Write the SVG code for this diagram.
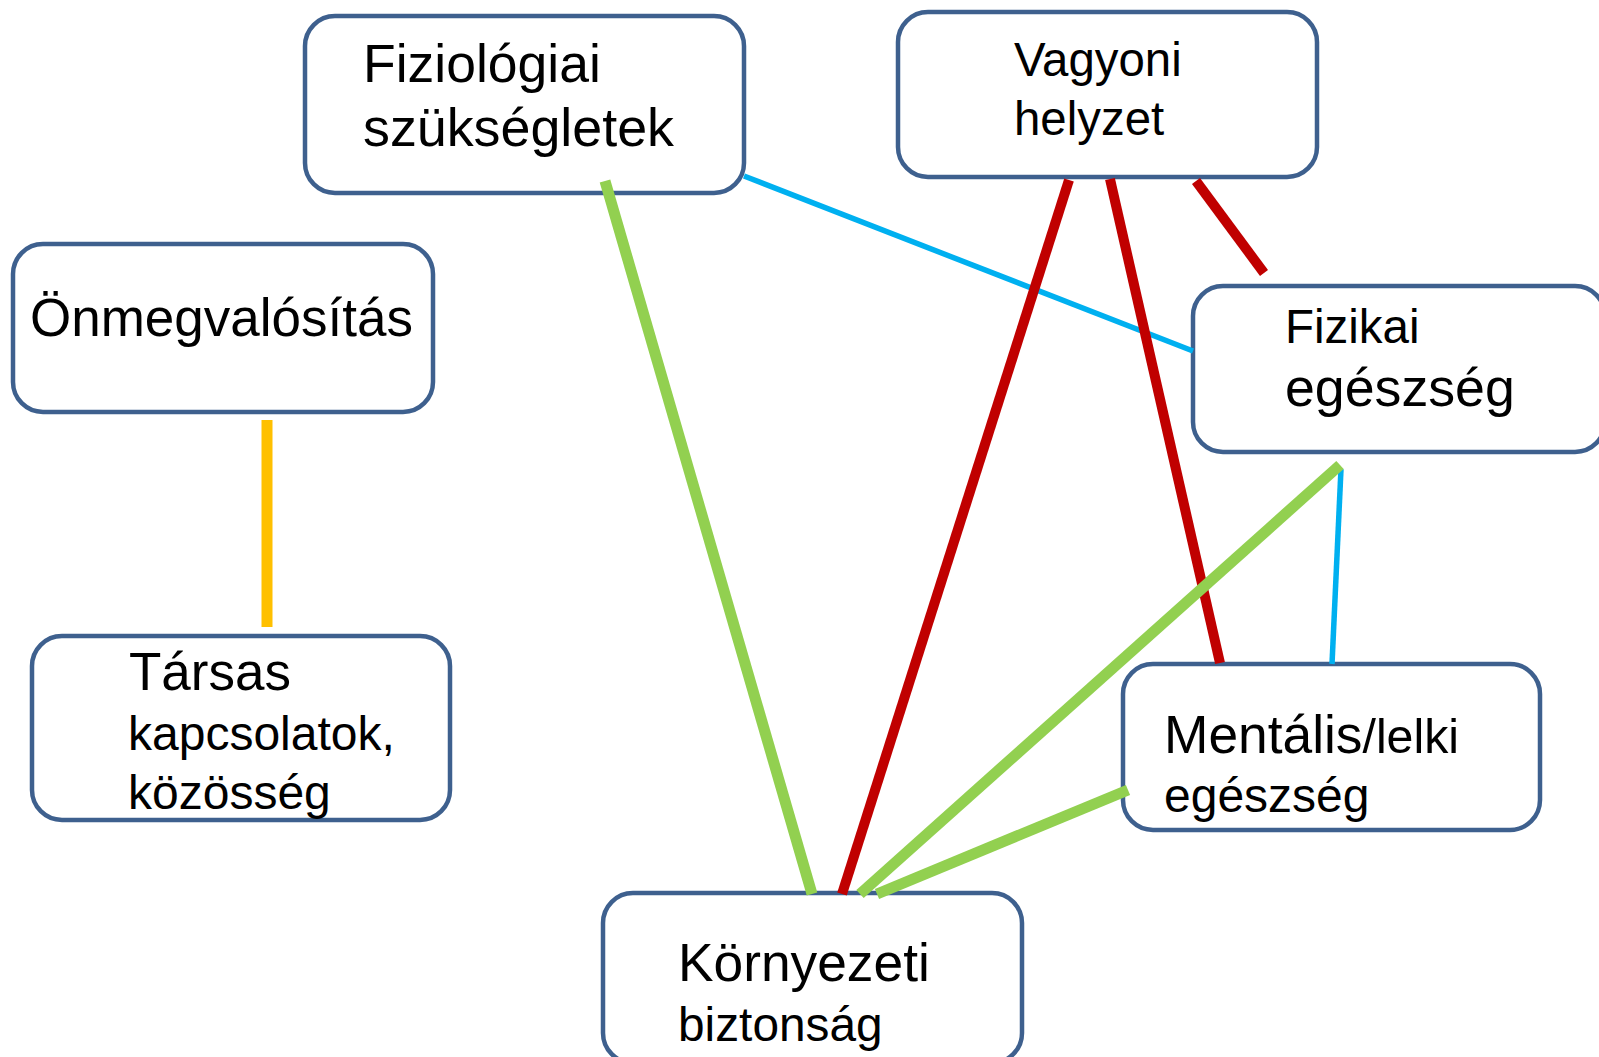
<svg xmlns="http://www.w3.org/2000/svg" width="1599" height="1057" viewBox="0 0 1599 1057">
<style>
.box{fill:#fff;stroke:#3E608E;stroke-width:4.5}
text{font-family:"Liberation Sans",Arial,sans-serif;fill:#000}
.c{fill:none;stroke-linecap:butt}
.red{stroke:#C00000;stroke-width:10}
.green{stroke:#92D050;stroke-width:11}
.blue{stroke:#00B0F0;stroke-width:5.5}
.orange{stroke:#FFC000;stroke-width:11}
</style>
<rect width="1599" height="1057" fill="#fff"/>
<g id="node-fiziologiai">
<rect class="box" x="305" y="16" width="439" height="177" rx="30"/>
<text x="363" y="82" font-size="53.5">Fiziológiai</text>
<text x="363" y="146" font-size="53.8">szükségletek</text>
</g>
<g id="node-vagyoni">
<rect class="box" x="898" y="12" width="419" height="165" rx="30"/>
<text x="1014" y="76" font-size="47.4">Vagyoni</text>
<text x="1014" y="135" font-size="47.4">helyzet</text>
</g>
<g id="node-onmegvalositas">
<rect class="box" x="13" y="244" width="420" height="168" rx="30"/>
<text x="30" y="336" font-size="53">Önmegvalósítás</text>
</g>
<g id="node-tarsas">
<rect class="box" x="32" y="636" width="418" height="184" rx="30"/>
<text x="129" y="690" font-size="53">Társas</text>
<text x="128" y="750" font-size="48">kapcsolatok,</text>
<text x="128" y="809" font-size="48">közösség</text>
</g>
<g id="node-fizikai">
<rect class="box" x="1193" y="286" width="412" height="166" rx="30"/>
<text x="1285" y="343" font-size="47.5">Fizikai</text>
<text x="1285" y="406" font-size="53.7">egészség</text>
</g>
<g id="node-mentalis">
<rect class="box" x="1123" y="664" width="417" height="166" rx="30"/>
<text x="1164" y="753"><tspan font-size="53.3">Mentális</tspan><tspan font-size="48.3">/lelki</tspan></text>
<text x="1164" y="812" font-size="48">egészség</text>
</g>
<g id="node-kornyezeti">
<rect class="box" x="603" y="893" width="419" height="170" rx="30"/>
<text x="678" y="981" font-size="53.3">Környezeti</text>
<text x="678" y="1041" font-size="47.8">biztonság</text>
</g>
<g id="connectors">
<line class="c blue" x1="744" y1="176" x2="1193" y2="351"/>
<line class="c blue" x1="1341" y1="469" x2="1332" y2="664"/>
<line class="c green" x1="605" y1="181" x2="812" y2="894"/>
<line class="c red" x1="1069" y1="180" x2="842" y2="894"/>
<line class="c red" x1="1110" y1="179" x2="1220" y2="663"/>
<line class="c red" x1="1196" y1="181" x2="1264" y2="273"/>
<line class="c green" x1="1340" y1="465" x2="860" y2="894"/>
<line class="c green" x1="1128" y1="790" x2="877" y2="894"/>
<line class="c orange" x1="267" y1="420" x2="267" y2="627"/>
</g>
</svg>
